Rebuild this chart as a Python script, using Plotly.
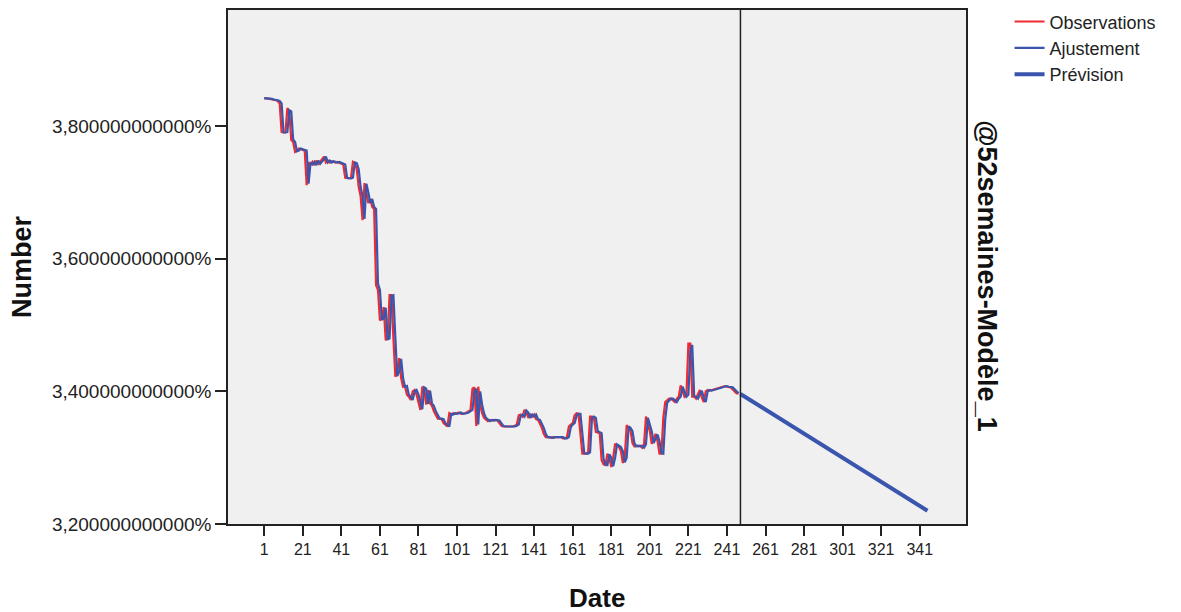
import plotly.graph_objects as go

# ---- data ----
obs_values = [
    3.842, 3.842, 3.841, 3.841, 3.840, 3.840, 3.839, 3.838, 3.834, 3.791,
    3.790, 3.791, 3.827, 3.822, 3.779, 3.776, 3.761, 3.763, 3.766, 3.765,
    3.764, 3.763, 3.711, 3.744, 3.742, 3.746, 3.741, 3.748, 3.743, 3.746,
    3.750, 3.754, 3.745, 3.748, 3.745, 3.747, 3.746, 3.745, 3.746, 3.745,
    3.744, 3.742, 3.722, 3.721, 3.721, 3.722, 3.746, 3.744, 3.735, 3.708,
    3.694, 3.658, 3.714, 3.700, 3.684, 3.690, 3.678, 3.675, 3.560, 3.553,
    3.507, 3.510, 3.527, 3.477, 3.480, 3.545, 3.545, 3.480, 3.422, 3.430,
    3.450, 3.420, 3.407, 3.408, 3.395, 3.392, 3.387, 3.400, 3.402, 3.395,
    3.385, 3.372, 3.407, 3.404, 3.380, 3.402, 3.382, 3.378, 3.370, 3.365,
    3.359, 3.359, 3.358, 3.352, 3.349, 3.347, 3.367, 3.365, 3.367, 3.366,
    3.367, 3.368, 3.366, 3.366, 3.367, 3.368, 3.370, 3.372, 3.404, 3.406,
    3.348, 3.407, 3.380, 3.367, 3.360, 3.357, 3.355, 3.357, 3.356, 3.357,
    3.356, 3.356, 3.352, 3.348, 3.347, 3.347, 3.346, 3.347, 3.347, 3.347,
    3.348, 3.350, 3.364, 3.365, 3.362, 3.372, 3.368, 3.360, 3.365, 3.362,
    3.365, 3.358, 3.357, 3.352, 3.345, 3.336, 3.331, 3.331, 3.330, 3.330,
    3.331, 3.331, 3.330, 3.330, 3.331, 3.329, 3.329, 3.331, 3.347, 3.350,
    3.352, 3.364, 3.367, 3.366, 3.330, 3.306, 3.306, 3.306, 3.308, 3.362,
    3.362, 3.360, 3.339, 3.338, 3.337, 3.296, 3.290, 3.289, 3.306, 3.300,
    3.286, 3.300, 3.321, 3.318, 3.316, 3.310, 3.292, 3.300, 3.349, 3.345,
    3.340, 3.322, 3.317, 3.318, 3.317, 3.318, 3.315, 3.320, 3.362, 3.350,
    3.340, 3.321, 3.330, 3.336, 3.325, 3.306, 3.306, 3.360, 3.384, 3.386,
    3.389, 3.389, 3.386, 3.384, 3.389, 3.392, 3.409, 3.400, 3.392, 3.395,
    3.472, 3.472, 3.392, 3.392, 3.389, 3.396, 3.402, 3.390, 3.384, 3.400,
    3.402, 3.401, 3.402, 3.403, 3.404, 3.404, 3.405, 3.406, 3.407, 3.408,
    3.407, 3.407, 3.406, 3.403, 3.400, 3.397, 3.397,
]

fit_values = [
    3.842, 3.842, 3.842, 3.841, 3.841, 3.840, 3.840, 3.839, 3.838, 3.834,
    3.791, 3.790, 3.791, 3.824, 3.822, 3.780, 3.776, 3.762, 3.763, 3.766,
    3.765, 3.764, 3.763, 3.713, 3.744, 3.742, 3.746, 3.741, 3.748, 3.743,
    3.746, 3.750, 3.754, 3.745, 3.748, 3.745, 3.747, 3.746, 3.745, 3.746,
    3.745, 3.744, 3.742, 3.722, 3.721, 3.721, 3.722, 3.745, 3.744, 3.735,
    3.708, 3.694, 3.660, 3.713, 3.700, 3.684, 3.690, 3.678, 3.675, 3.562,
    3.553, 3.508, 3.510, 3.526, 3.478, 3.480, 3.544, 3.545, 3.481, 3.423,
    3.430, 3.449, 3.420, 3.407, 3.408, 3.395, 3.392, 3.387, 3.400, 3.402,
    3.395, 3.385, 3.373, 3.406, 3.404, 3.381, 3.401, 3.382, 3.378, 3.370,
    3.365, 3.359, 3.359, 3.358, 3.352, 3.349, 3.347, 3.366, 3.365, 3.367,
    3.366, 3.367, 3.368, 3.366, 3.366, 3.367, 3.368, 3.370, 3.372, 3.400,
    3.404, 3.350, 3.400, 3.380, 3.367, 3.360, 3.357, 3.355, 3.357, 3.356,
    3.357, 3.356, 3.356, 3.352, 3.348, 3.347, 3.347, 3.346, 3.347, 3.347,
    3.347, 3.348, 3.350, 3.363, 3.365, 3.362, 3.371, 3.368, 3.360, 3.365,
    3.362, 3.365, 3.358, 3.357, 3.352, 3.345, 3.336, 3.331, 3.331, 3.330,
    3.330, 3.331, 3.331, 3.330, 3.330, 3.331, 3.329, 3.329, 3.331, 3.346,
    3.350, 3.352, 3.363, 3.366, 3.366, 3.331, 3.307, 3.306, 3.306, 3.308,
    3.360, 3.362, 3.360, 3.340, 3.338, 3.337, 3.298, 3.290, 3.289, 3.305,
    3.300, 3.287, 3.300, 3.320, 3.318, 3.316, 3.310, 3.293, 3.300, 3.347,
    3.345, 3.340, 3.322, 3.317, 3.318, 3.317, 3.318, 3.315, 3.320, 3.360,
    3.350, 3.340, 3.322, 3.330, 3.335, 3.325, 3.307, 3.306, 3.358, 3.383,
    3.386, 3.389, 3.389, 3.386, 3.384, 3.389, 3.392, 3.407, 3.400, 3.392,
    3.395, 3.460, 3.470, 3.393, 3.392, 3.389, 3.396, 3.401, 3.390, 3.384,
    3.400, 3.402, 3.401, 3.402, 3.403, 3.404, 3.404, 3.405, 3.406, 3.407,
    3.408, 3.407, 3.407, 3.406, 3.403, 3.400, 3.397,
]

forecast_dates = [248, 345]
forecast_values = [3.396, 3.220]

obs_dates = list(range(1, len(obs_values) + 1))
fit_dates = list(range(1, len(fit_values) + 1))

x_tick_vals = list(range(1, 342, 20))
x_tick_text = [str(v) for v in x_tick_vals]
y_tick_vals = [3.2, 3.4, 3.6, 3.8]
y_tick_text = ["3,200000000000%", "3,400000000000%", "3,600000000000%", "3,800000000000%"]
forecast_origin = 248

RED = "#ee2b30"
BLUE = "#3a55ad"

fig = go.Figure()
fig.add_trace(go.Scatter(x=obs_dates, y=obs_values, mode="lines", name="Observations",
                         line=dict(color=RED, width=2.2)))
fig.add_trace(go.Scatter(x=fit_dates, y=fit_values, mode="lines", name="Ajustement",
                         line=dict(color=BLUE, width=2.2)))
fig.add_trace(go.Scatter(x=forecast_dates, y=forecast_values, mode="lines", name="Prévision",
                         line=dict(color=BLUE, width=4)))

fig.add_shape(type="line", xref="x", yref="paper", x0=forecast_origin, x1=forecast_origin,
              y0=0, y1=1, line=dict(color="#222222", width=1.5))

FONT = "Liberation Sans, Arial, sans-serif"

fig.update_layout(
    width=1181, height=612,
    margin=dict(l=228, r=215, t=10, b=88, autoexpand=False),
    paper_bgcolor="white",
    plot_bgcolor="#f0f0f0",
    font=dict(family=FONT, color="#222222"),
    showlegend=True,
    legend=dict(x=1.059, y=1.013, xanchor="left", yanchor="top",
                font=dict(size=18, family=FONT, color="#222222"),
                bgcolor="rgba(0,0,0,0)", tracegroupgap=0,
                itemwidth=30),
    annotations=[
        dict(text="<b>Number</b>", xref="paper", yref="paper", x=-0.279, y=0.5,
             textangle=-90, showarrow=False, xanchor="center", yanchor="middle",
             font=dict(size=27, family=FONT, color="#111111")),
        dict(text="<b>Date</b>", xref="paper", yref="paper", x=0.5, y=-0.144,
             showarrow=False, xanchor="center", yanchor="middle",
             font=dict(size=26, family=FONT, color="#111111")),
        dict(text="<b>@52semaines-Modèle_1</b>", xref="paper", yref="paper", x=1.0285, y=0.484,
             textangle=90, showarrow=False, xanchor="center", yanchor="middle",
             font=dict(size=27, family=FONT, color="#111111")),
    ],
)

fig.update_xaxes(
    range=[-17.8, 365], tickmode="array", tickvals=x_tick_vals, ticktext=x_tick_text,
    ticks="outside", ticklen=10, tickwidth=1.5, tickcolor="#222222",
    showgrid=False, zeroline=False, showline=True, linecolor="#222222", linewidth=1.5,
    mirror=True, tickfont=dict(size=16, family="Liberation Sans Narrow, Arial Narrow, sans-serif",
                               color="#222222"),
)
fig.update_yaxes(
    range=[3.2, 3.975], tickmode="array", tickvals=y_tick_vals, ticktext=y_tick_text,
    ticks="outside", ticklen=11, tickwidth=1.5, tickcolor="#222222",
    showgrid=False, zeroline=False, showline=True, linecolor="#222222", linewidth=1.5,
    mirror=True, tickfont=dict(size=19, family=FONT, color="#222222"),
)

fig.write_html("out.html")
